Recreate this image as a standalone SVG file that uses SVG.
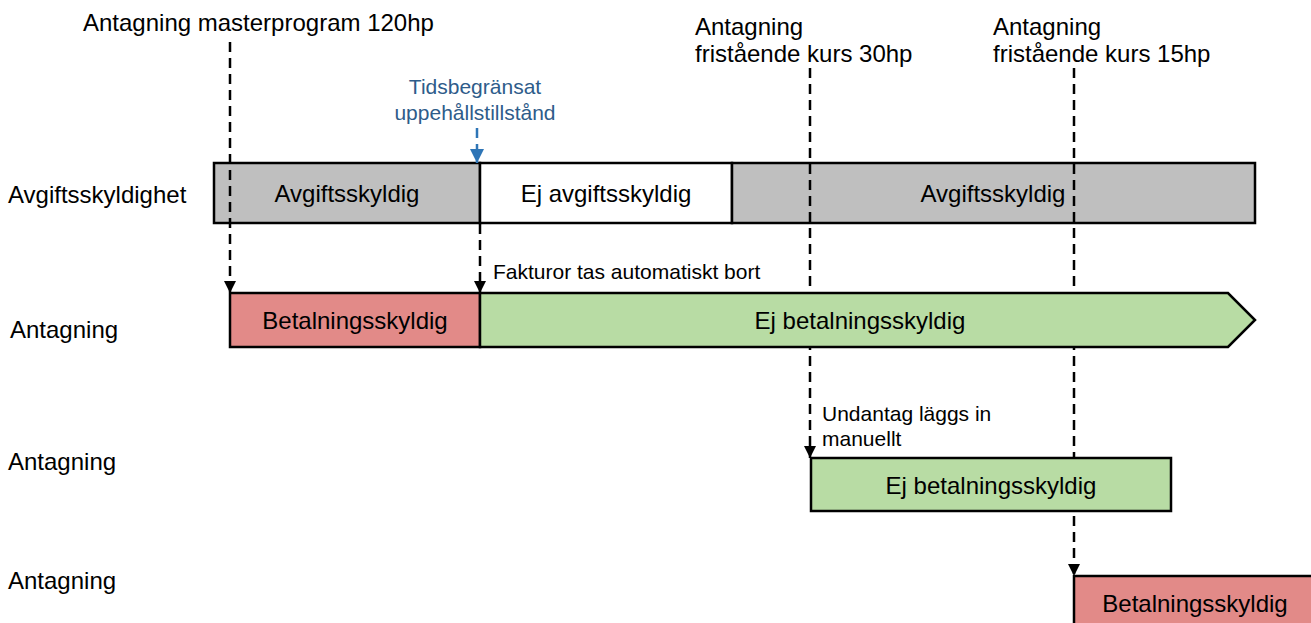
<svg xmlns="http://www.w3.org/2000/svg" width="1311" height="623" viewBox="0 0 1311 623">
<defs>
<style>
text{font-family:"Liberation Sans",Arial,sans-serif;fill:#000}
.t{font-size:24px}
.s{font-size:21px}
.c{text-anchor:middle}
.blue{fill:#2E5C8A;font-size:21px;text-anchor:middle}
.box{stroke:#000;stroke-width:2.5}
.gray{fill:#BFBFBF}
.white{fill:#FFFFFF}
.red{fill:#E28A88}
.green{fill:#B8DCA4}
.dash{stroke:#000;stroke-width:2.5;stroke-dasharray:10 6;fill:none}
.bdash{stroke:#2E75B6;stroke-width:2.5;stroke-dasharray:10 6;fill:none}
</style>
<marker id="ah" viewBox="0 -6 12 12" refX="12" refY="0" markerWidth="12" markerHeight="12" markerUnits="userSpaceOnUse" orient="auto">
<path d="M0,-6 L12,0 L0,6 z" fill="#000"/>
</marker>
<marker id="bh" viewBox="0 -7 14 14" refX="14" refY="0" markerWidth="14" markerHeight="14" markerUnits="userSpaceOnUse" orient="auto">
<path d="M0,-7 L14,0 L0,7 z" fill="#2E75B6"/>
</marker>
</defs>

<g id="labels">
<text class="t" x="83" y="31">Antagning masterprogram 120hp</text>
<text class="t" x="695" y="35">Antagning</text>
<text class="t" x="695" y="62">fristående kurs 30hp</text>
<text class="t" x="993" y="35">Antagning</text>
<text class="t" x="993" y="62">fristående kurs 15hp</text>
<text class="blue" x="475" y="94">Tidsbegränsat</text>
<text class="blue" x="475" y="120">uppehållstillstånd</text>
<text class="t" x="8" y="203">Avgiftsskyldighet</text>
<text class="t" x="10" y="338">Antagning</text>
<text class="t" x="8" y="470">Antagning</text>
<text class="t" x="8" y="589">Antagning</text>
<text class="s" x="493" y="279">Fakturor tas automatiskt bort</text>
<text class="s" x="822" y="421">Undantag läggs in</text>
<text class="s" x="822" y="446">manuellt</text>
</g>

<g id="row1">
<g id="avgift1"><rect class="box gray" x="214" y="163" width="266" height="60"/><text class="t c" x="347" y="202">Avgiftsskyldig</text></g>
<g id="ejavgift"><rect class="box white" x="480" y="163" width="252" height="60"/><text class="t c" x="606" y="202">Ej avgiftsskyldig</text></g>
<g id="avgift2"><rect class="box gray" x="732" y="163" width="523" height="60"/><text class="t c" x="993" y="202">Avgiftsskyldig</text></g>
</g>

<g id="connectors">
<line class="dash" x1="230" y1="42" x2="230" y2="293" marker-end="url(#ah)"/>
<line class="bdash" x1="477" y1="128" x2="477" y2="163" marker-end="url(#bh)"/>
<line class="dash" x1="480" y1="224" x2="480" y2="293" marker-end="url(#ah)"/>
<line class="dash" x1="810" y1="68" x2="810" y2="458" marker-end="url(#ah)"/>
<line class="dash" x1="1074" y1="68" x2="1074" y2="576" marker-end="url(#ah)"/>
</g>

<g id="row2">
<g id="betal1"><rect class="box red" x="230" y="293" width="250" height="54"/><text class="t c" x="355" y="329">Betalningsskyldig</text></g>
<g id="ejbetal1"><polygon class="box green" points="480,293 1228,293 1255,320 1228,347 480,347"/><text class="t c" x="860" y="329">Ej betalningsskyldig</text></g>
</g>

<g id="row3">
<g id="ejbetal2"><rect class="box green" x="811" y="458" width="360" height="53"/><text class="t c" x="991" y="494">Ej betalningsskyldig</text></g>
</g>

<g id="row4">
<g id="betal2"><rect class="box red" x="1074" y="576" width="260" height="60"/><text class="t c" x="1195" y="612">Betalningsskyldig</text></g>
</g>
</svg>
